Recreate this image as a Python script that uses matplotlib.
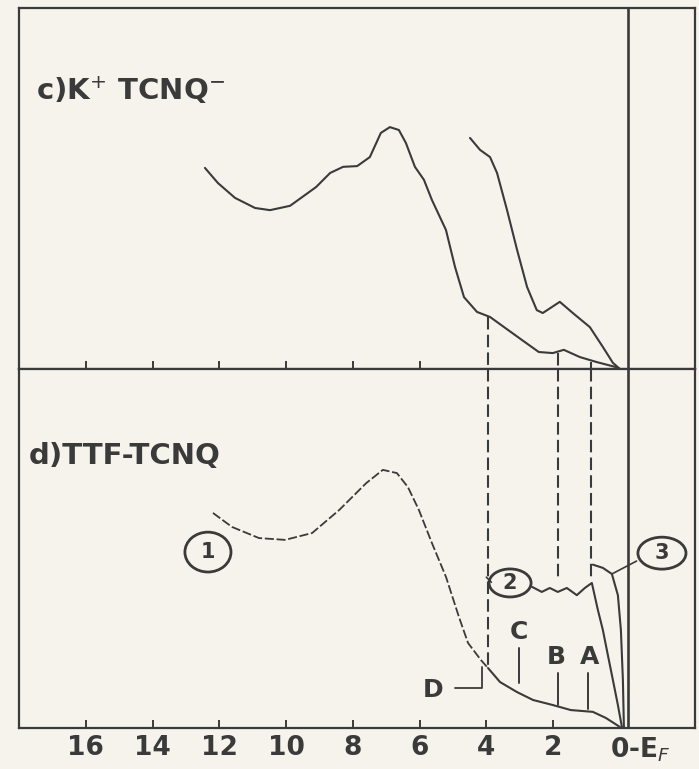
import matplotlib.pyplot as plt
from matplotlib.patches import Ellipse

# binding energy (eV below E_F) and intensity (arb. units, 0-100 per panel)
# c) K+ TCNQ-
k_broad_e = [12.43, 12.04, 11.53, 10.93, 10.48, 9.88, 9.10, 8.68, 8.29, 7.87, 7.49,
             7.16, 6.89, 6.62, 6.41, 6.14, 5.87, 5.63, 5.21, 4.94, 4.67, 4.28, 3.89,
             3.47, 2.93, 2.43, 2.01, 1.68, 1.20, 0.69, 0.15, 0.0]
k_broad_i = [55.7, 51.5, 47.4, 44.6, 44.0, 45.2, 50.4, 54.3, 56.0, 56.2, 58.7,
             65.4, 67.0, 66.2, 62.6, 56.0, 52.4, 46.8, 38.5, 28.3, 19.9, 15.8, 14.4,
             11.6, 8.0, 4.7, 4.4, 5.3, 3.3, 1.9, 0.6, 0.0]
k_narrow_e = [4.49, 4.19, 3.89, 3.68, 3.38, 3.08, 2.78, 2.49, 2.31, 1.80, 1.41,
              0.90, 0.51, 0.21, 0.0]
k_narrow_i = [64.0, 60.7, 58.7, 54.3, 44.0, 33.0, 22.7, 16.3, 15.5, 18.6, 15.5,
              11.6, 6.1, 1.7, 0.0]

# d) TTF-TCNQ
ttf_band1_e = [12.19, 11.62, 10.81, 10.03, 9.22, 8.41, 7.60, 7.10, 6.68, 6.35,
               6.02, 5.63, 5.21, 4.82, 4.55, 4.16, 3.95]
ttf_band1_i = [59.9, 56.0, 52.9, 52.4, 54.3, 60.7, 68.2, 71.9, 71.0, 67.1,
               60.7, 51.5, 42.1, 30.9, 23.7, 18.9, 16.7]
ttf_tail_e = [3.95, 3.59, 3.08, 2.60, 2.01, 1.47, 0.81, 0.42, 0.0]
ttf_tail_i = [16.7, 12.8, 10.0, 7.8, 6.4, 5.0, 4.5, 2.8, 0.3]
ttf_band2_e = [2.63, 2.34, 2.10, 1.86, 1.59, 1.29, 1.05, 0.84, 0.66, 0.51, 0.36,
               0.21, 0.06, -0.06]
ttf_band2_i = [39.3, 37.9, 39.0, 37.9, 39.0, 37.0, 39.0, 40.4, 32.9, 27.3, 20.3,
               13.4, 6.4, 0.3]
ttf_band3_e = [0.81, 0.51, 0.24, 0.06, -0.03, -0.09, -0.12]
ttf_band3_i = [45.5, 44.6, 42.9, 37.0, 27.3, 13.4, 0.3]

# dashed correspondence lines: energy, start in c), end in d)
link_e = [3.95, 1.85, 0.87]
link_top = [14.5, 4.5, 2.0]
link_bottom = [16.7, 42.0, 41.2]

# peak markers in d)
peak_names = ["A", "B", "C"]
peak_e = [0.96, 1.86, 3.02]
peak_top = [15.3, 15.3, 22.3]
peak_bottom = [5.4, 6.4, 12.5]

tick_e = [16, 14, 12, 10, 8, 6, 4, 2]
mid_tick_e = [16, 14, 12, 10, 8, 6]
ef_line = -0.24

ink = "#3a3a3a"
paper = "#f5f3ec"
lw = 1.5
txt = dict(color=ink, family=["DejaVu Sans"], fontweight="bold")
line_kw = dict(color=ink, solid_joinstyle="round", solid_capstyle="round")

fig = plt.figure(figsize=(6.99, 7.69), dpi=100, facecolor=paper)
ax_c = fig.add_axes([19 / 699, 0.5202, 676 / 699, 0.4694])
ax_d = fig.add_axes([19 / 699, 0.0533, 676 / 699, 0.4669])

for ax in (ax_c, ax_d):
    ax.set_facecolor(paper)
    ax.set_xlim(18.0, -2.25)
    ax.set_ylim(0, 100)
    ax.set_yticks([])
    for s in ax.spines.values():
        s.set_color(ink)
        s.set_linewidth(1.6)
    ax.axvline(ef_line, color=ink, lw=1.9)
    ax.tick_params(axis="x", direction="in", length=6, width=1.4, color=ink)

ax_c.set_xticks(mid_tick_e)
ax_c.tick_params(axis="x", labelbottom=False)
ax_d.set_xticks(tick_e)
ax_d.set_xticklabels([str(t) for t in tick_e])
ax_d.tick_params(axis="x", pad=5, labelsize=19, labelcolor=ink)
for lab in ax_d.get_xticklabels():
    lab.set_fontweight("bold")
ax_d.text(0.3, -2.2, "0-E$_F$", ha="left", va="top", fontsize=19,
          fontweight="bold", color=ink, clip_on=False)

# panel c
ax_c.plot(k_broad_e, k_broad_i, lw=lw, **line_kw)
ax_c.plot(k_narrow_e, k_narrow_i, lw=lw, **line_kw)
ax_c.text(17.5, 74.5, "c)K$^{+}$ TCNQ$^{-}$", fontsize=21, va="baseline", **txt)

# panel d
ax_d.plot(ttf_band1_e, ttf_band1_i, color=ink, lw=1.3, ls=(0, (5, 1.5)))
ax_d.plot(ttf_tail_e, ttf_tail_i, lw=lw, **line_kw)
ax_d.plot(ttf_band2_e, ttf_band2_i, lw=lw, **line_kw)
ax_d.plot(ttf_band3_e, ttf_band3_i, lw=lw, **line_kw)
ax_d.plot([0.24, -0.5], [42.9, 46.5], lw=1.2, **line_kw)
ax_d.plot([4.0, 3.85], [42.0, 40.6], lw=1.2, **line_kw)
ax_d.text(17.7, 73.5, "d)TTF-TCNQ", fontsize=21, va="baseline", **txt)

for e, t, b in zip(link_e, link_top, link_bottom):
    ax_c.plot([e, e], [t, 0], color=ink, lw=1.5, ls=(0, (6, 2.5)))
    ax_d.plot([e, e], [100, b], color=ink, lw=1.5, ls=(0, (6, 2.5)))

for name, e, t, b in zip(peak_names, peak_e, peak_top, peak_bottom):
    ax_d.plot([e, e], [t, b], lw=1.4, **line_kw)
ax_d.text(peak_e[0] - 0.05, 16.5, "A", ha="center", va="bottom", fontsize=18, **txt)
ax_d.text(peak_e[1] + 0.05, 16.5, "B", ha="center", va="bottom", fontsize=18, **txt)
ax_d.text(peak_e[2], 23.5, "C", ha="center", va="bottom", fontsize=18, **txt)

# D bracket
ax_d.plot([4.94, 4.13, 4.13], [11.1, 11.1, 17.0], lw=1.3, **line_kw)
ax_d.text(5.60, 10.6, "D", ha="center", va="center", fontsize=18, **txt)

# numbered circles
circles = [("1", 12.34, 49.0, 1.38, 11.1), ("2", 3.29, 40.4, 1.26, 7.8),
           ("3", -1.26, 48.7, 1.44, 8.9)]
for lab, ce, ci, w, h in circles:
    ax_d.add_patch(Ellipse((ce, ci), w, h, fill=False, ec=ink, lw=2.0))
    ax_d.text(ce, ci, lab, ha="center", va="center", fontsize=15, **txt)

fig.savefig("out.png", dpi=100, facecolor=paper)
